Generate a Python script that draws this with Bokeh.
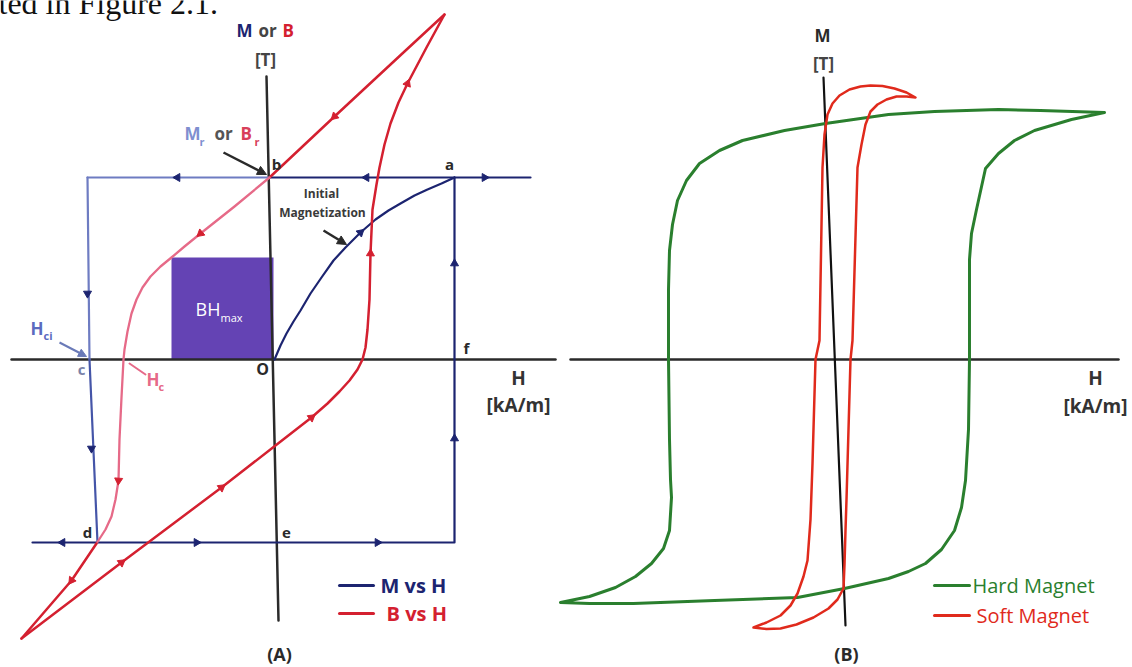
from bokeh.plotting import figure
from bokeh.models import Range1d, Arrow, NormalHead
from bokeh.core.properties import value
from bokeh.embed import file_html
from bokeh.resources import INLINE

# ---------------- DATA (schematic units: H in kA/m-like units, M/B in T-like units) ----
# Panel (A): axes
axA_v_H = [-0.8, 0.4];   axA_v_M = [28.3, -26.1]
axA_h_H = [-26.3, 28.1]; axA_h_M = [0.0, 0.0]

# Panel (A): M vs H rectangular loop
mh_top_H = [25.6, -0.5, -18.7];  mh_top_M = [18.2, 18.2, 18.2]
mh_left_H = [-18.7, -18.5, -17.7]; mh_left_M = [18.2, 0.0, -18.3]
mh_bot_H = [-24.2, 18.0, 18.0];  mh_bot_M = [-18.3, -18.3, 18.2]

# Panel (A): initial magnetization curve O -> a
init_H = [0.0, 0.6, 1.2, 1.9, 2.6, 3.6, 4.7, 5.9, 7.1, 8.6, 10.1, 11.4, 12.6, 14.0, 15.3, 16.7, 18.0]
init_M = [0.0, 1.4, 2.6, 3.8, 4.9, 6.6, 8.2, 9.9, 11.2, 12.7, 14.0, 14.9, 15.6, 16.4, 17.0, 17.6, 18.2]

# Panel (A): B vs H loop
bh_down_H = [17.0, 13.0, 6.0, -0.5]
bh_down_M = [34.5, 30.8, 24.3, 18.2]
bh_pink_H = [-0.5, -4.0, -7.4, -9.0, -10.3, -11.4, -12.4, -13.2, -13.8, -14.3, -14.7, -15.0, -15.1,
             -15.3, -15.5, -15.6, -15.9, -16.3, -16.9, -17.8]
bh_pink_M = [18.2, 15.3, 12.6, 11.3, 10.2, 9.3, 8.3, 7.2, 6.0, 4.6, 2.8, 1.0, 0.0,
             -3.8, -8.0, -12.1, -14.0, -15.7, -17.0, -18.4]
bh_tail_H = [-17.8, -20.3, -25.3]
bh_tail_M = [-18.4, -22.1, -27.9]
bh_up_H = [-25.3, -15.3, -5.3, 0.1, 3.7, 5.3, 6.5, 7.5, 8.3, 8.8, 9.1, 9.3, 9.5, 9.6, 9.8,
           10.2, 10.5, 11.0, 11.6, 12.4, 13.3, 15.2, 17.0]
bh_up_M = [-27.9, -20.3, -12.8, -8.6, -5.8, -4.4, -3.2, -2.1, -1.0, 0.0, 1.2, 3.0, 6.0, 10.6, 15.0,
           17.5, 19.2, 21.5, 23.6, 25.7, 27.6, 31.2, 34.5]

# Panel (A): BHmax box
bhmax_H = [-10.3, -0.1]; bhmax_M = [0.0, 10.2]

# Panel (A): direction arrows on the loops (position, direction in degrees)
arrA_blue_H = [-9.7, 9.2, 21.0, -18.7, -18.3, -21.2, -7.8, 10.3, 18.0, 18.0, 8.6]
arrA_blue_M = [18.2, 18.2, 18.2, 6.6, -8.9, -18.3, -18.3, -18.3, 9.6, -7.9, 12.7]
arrA_blue_dir = [180, 180, 0, 270, 270, 180, 0, 0, 90, 90, 42]
arrA_red_H = [6.0, -7.4, -15.6, -20.3, -15.3, -5.3, 3.7, 9.6, 13.3]
arrA_red_M = [24.3, 12.6, -12.1, -22.1, -20.3, -12.8, -5.8, 10.6, 27.6]
arrA_red_dir = [223, 220, 266, 235, 37, 37, 38, 88, 68]

# Panel (B): axes
axB_v_H = [-1.1, 1.1];   axB_v_M = [28.2, -26.6]
axB_h_H = [-26.4, 28.4]; axB_h_M = [0.0, 0.0]

# Panel (B): hard magnet loop
hard_H = [27.0, 20.6, 16.4, 10.0, 5.4, -0.9, -5.0, -9.2, -11.5, -13.5, -14.8, -15.7, -16.2, -16.5,
          -16.6, -16.6, -16.5, -16.4, -16.3, -16.5, -17.1, -18.3, -19.9, -21.9, -24.5, -27.4,
          -24.5, -20.1, -12.0, -3.7, 1.0, 5.4, 7.4, 9.1, 10.7, 12.0, 12.7, 13.1, 13.4, 13.5,
          13.5, 13.7, 14.2, 15.1, 16.4, 18.0, 20.0, 23.7, 27.0]
hard_M = [24.7, 24.9, 25.0, 24.8, 24.5, 23.6, 22.9, 21.9, 20.9, 19.6, 17.9, 15.9, 13.5, 10.9,
          7.0, 0.0, -8.0, -12.0, -13.8, -17.1, -18.9, -20.4, -21.7, -22.8, -23.7, -24.3,
          -24.4, -24.4, -24.1, -23.8, -22.9, -21.9, -21.2, -20.4, -19.0, -17.1, -14.8, -12.1, -7.0, 0.0,
          10.0, 12.6, 15.0, 19.1, 20.6, 21.9, 22.9, 24.0, 24.7]

# Panel (B): soft magnet loop
soft_H = [-8.1, -6.8, -5.4, -4.4, -3.7, -3.1, -2.7, -2.4, -2.2, -1.9, -1.5, -1.2, -1.0, -0.7,
          -0.2, 0.5, 1.5, 2.6, 3.6, 4.8, 6.0, 7.2, 8.1,
          7.2, 6.2, 5.2, 4.3, 3.6, 3.1, 2.7, 2.3, 1.8, 1.6, 1.2, 1.1, 1.0, 0.9, 0.3, -0.6,
          -2.1, -3.8, -5.4, -6.8, -8.1]
soft_M = [-26.8, -26.3, -25.6, -24.6, -23.4, -21.7, -20.1, -16.0, -10.4, 0.0, 1.9, 19.2, 22.5, 24.5,
          25.6, 26.4, 27.0, 27.3, 27.4, 27.35, 27.1, 26.7, 26.2,
          26.3, 26.3, 26.0, 25.5, 24.8, 23.5, 21.5, 19.2, 1.9, 0.0, -14.0, -17.1, -20.5, -22.9, -24.0, -24.9,
          -25.8, -26.5, -26.9, -26.95, -26.8]

# ---------------- STYLE ----------------
NAVY = "#1c2470"
LIGHTBLUE = "#6e7cc2"
MIDBLUE = "#4555a8"
RED = "#d42030"
PINK = "#e66a88"
GREEN = "#2a7f2e"
SOFTRED = "#e02a1c"
DARK = "#2a2a2a"
FONT = value("Open Sans")

p = figure(width=1132, height=667, output_backend="svg", toolbar_location=None,
           x_range=Range1d(-27.4, 85.8), y_range=Range1d(-30.8, 35.9),
           x_axis_type=None, y_axis_type=None, min_border=0)
p.extra_x_ranges = {"B": Range1d(-83.4, 29.8)}
p.grid.visible = False
p.outline_line_color = None
p.background_fill_color = "white"
p.border_fill_color = "white"


def txt(x, y, s, size, color, align="center", style="bold", rng="default", baseline="middle", font=FONT):
    p.text(x=[x], y=[y], text=[s], text_font=font, text_font_size=size,
           text_font_style=style, text_color=color, text_align=align,
           text_baseline=baseline, x_range_name=rng)


def curve(xs, ys, color, width, rng="default"):
    p.line(xs, ys, line_color=color, line_width=width, line_join="round", line_cap="round",
           x_range_name=rng)


# page fragment at top-left (cut-off text of the source document)
txt(-27.6, 35.7, "ted in Figure 2.1.", "32px", "#111111", align="left", style="normal",
    baseline="alphabetic", font=value("Liberation Serif"))

# ---------- Panel A ----------
p.quad(left=[bhmax_H[0]], right=[bhmax_H[1]], bottom=[bhmax_M[0]], top=[bhmax_M[1]],
       fill_color="#6443b4", line_color=None)
curve(axA_v_H, axA_v_M, DARK, 2.5)
curve(axA_h_H, axA_h_M, DARK, 2.5)

curve(mh_top_H[:2], mh_top_M[:2], NAVY, 2.2)
curve(mh_top_H[1:], mh_top_M[1:], LIGHTBLUE, 2.2)
curve(mh_left_H[:2], mh_left_M[:2], LIGHTBLUE, 2.2)
curve(mh_left_H[1:], mh_left_M[1:], MIDBLUE, 2.2)
curve(mh_bot_H, mh_bot_M, NAVY, 2.2)
curve(init_H, init_M, NAVY, 2.2)

curve(bh_down_H, bh_down_M, RED, 2.5)
curve(bh_pink_H, bh_pink_M, PINK, 2.3)
curve(bh_tail_H, bh_tail_M, RED, 2.5)
curve(bh_up_H, bh_up_M, RED, 2.5)

p.scatter(x=arrA_blue_H, y=arrA_blue_M, angle=[d - 90 for d in arrA_blue_dir], angle_units="deg",
          marker="triangle", size=8, fill_color=NAVY, line_color=NAVY)
p.scatter(x=arrA_red_H, y=arrA_red_M, angle=[d - 90 for d in arrA_red_dir], angle_units="deg",
          marker="triangle", size=8, fill_color=RED, line_color=RED)

# labels panel A
txt(-2.2, 32.9, "M", "17px", NAVY, align="right")
txt(-0.7, 32.9, "or", "17px", "#444444")
txt(0.8, 32.9, "B", "17px", RED, align="left")
txt(-0.9, 30.0, "[T]", "17px", "#444444")

txt(-9.0, 22.6, "M", "17px", "#7f8fd0", align="left")
txt(-7.5, 21.8, "r", "11px", "#7f8fd0", align="left")
txt(-6.0, 22.6, "or", "17px", "#555555", align="left")
txt(-3.4, 22.6, "B", "17px", "#d8405a", align="left")
txt(-2.0, 21.8, "r", "11px", "#d8405a", align="left")

txt(0.2, 19.6, "b", "15px", DARK)
txt(17.5, 19.6, "a", "15px", DARK)
txt(-19.3, -0.9, "c", "15px", "#7a82a8")
txt(-1.2, -0.9, "O", "16px", DARK)
txt(19.2, 1.2, "f", "15px", DARK)
txt(-18.7, -17.2, "d", "15px", DARK)
txt(1.2, -17.3, "e", "15px", DARK)

txt(4.7, 16.6, "Initial", "12px", "#3a3a3a")
txt(4.8, 14.7, "Magnetization", "12px", "#3a3a3a")

txt(-7.9, 5.1, "BH", "18px", "white", align="left", style="normal")
txt(-5.4, 4.2, "max", "11px", "white", align="left", style="normal")

txt(-24.4, 3.1, "H", "17px", "#5b6bbf", align="left")
txt(-23.1, 2.4, "ci", "11px", "#5b6bbf", align="left")
txt(-12.8, -2.0, "H", "17px", PINK, align="left")
txt(-11.6, -2.7, "c", "11px", PINK, align="left")
curve([-14.5, -12.9], [-0.4, -1.5], PINK, 2)

txt(24.4, -1.8, "H", "19px", "#333333")
txt(24.4, -4.5, "[kA/m]", "19px", "#333333")

curve([6.5, 9.9], [-22.6, -22.6], NAVY, 3)
txt(10.6, -22.6, "M vs H", "20px", NAVY, align="left")
curve([6.5, 9.9], [-25.4, -25.4], RED, 3)
txt(11.2, -25.4, "B vs H", "20px", RED, align="left")
txt(0.5, -29.4, "(A)", "18px", DARK)

p.add_layout(Arrow(end=NormalHead(size=9, fill_color=DARK, line_color=DARK),
                   x_start=-5.1, y_start=20.7, x_end=-0.8, y_end=18.5,
                   line_color=DARK, line_width=2.5))
p.add_layout(Arrow(end=NormalHead(size=9, fill_color=DARK, line_color=DARK),
                   x_start=4.9, y_start=12.9, x_end=7.2, y_end=11.5,
                   line_color=DARK, line_width=2.5))
p.add_layout(Arrow(end=NormalHead(size=8, fill_color="#6a7ab8", line_color="#6a7ab8"),
                   x_start=-21.5, y_start=1.7, x_end=-18.8, y_end=0.3,
                   line_color="#6a7ab8", line_width=2))

# ---------- Panel B ----------
curve(axB_h_H, axB_h_M, DARK, 2.5, rng="B")
curve(axB_v_H, axB_v_M, "#111111", 2.2, rng="B")
curve(hard_H, hard_M, GREEN, 3, rng="B")
curve(soft_H, soft_M, SOFTRED, 2.5, rng="B")

txt(-1.2, 32.4, "M", "17px", DARK, rng="B")
txt(-1.1, 29.6, "[T]", "17px", "#444444", rng="B")
txt(26.1, -1.8, "H", "19px", "#333333", rng="B")
txt(26.1, -4.6, "[kA/m]", "19px", "#333333", rng="B")

curve([10.0, 13.5], [-22.6, -22.6], GREEN, 3, rng="B")
txt(13.8, -22.6, "Hard Magnet", "20px", GREEN, align="left", style="normal", rng="B")
curve([10.0, 13.5], [-25.6, -25.6], SOFTRED, 3, rng="B")
txt(14.2, -25.6, "Soft Magnet", "20px", SOFTRED, align="left", style="normal", rng="B")
txt(1.2, -29.4, "(B)", "18px", DARK, rng="B")

open("out.html", "w").write(file_html(p, INLINE))
